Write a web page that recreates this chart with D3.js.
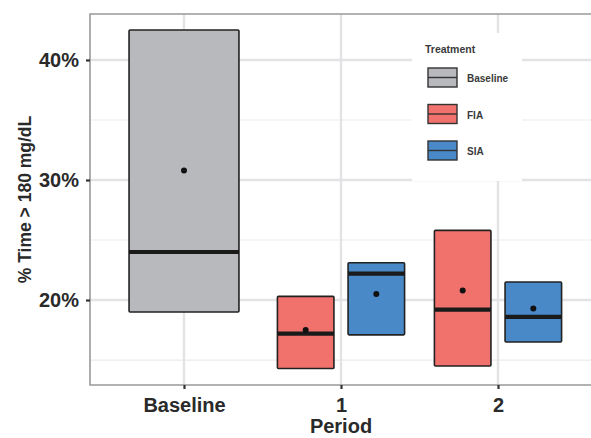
<!DOCTYPE html>
<html>
<head>
<meta charset="utf-8">
<script src="https://cdn.jsdelivr.net/npm/d3@7"></script>
<style>
  body { margin: 0; background: #fff; }
  text { font-family: "Liberation Sans", Arial, sans-serif; }
</style>
</head>
<body>
<script>
// categories on the x axis
var periods = ["Baseline", "1", "2"];
var treatments = ["Baseline", "FIA", "SIA"];
// one row per box: low, median, high, mean (percent)
var boxPeriod = ["Baseline", "1", "1", "2", "2"];
var boxTreat  = ["Baseline", "FIA", "SIA", "FIA", "SIA"];
var boxLow    = [19.0, 14.3, 17.1, 14.5, 16.5];
var boxMed    = [24.0, 17.2, 22.2, 19.2, 18.6];
var boxHigh   = [42.5, 20.3, 23.1, 25.8, 21.5];
var boxMean   = [30.8, 17.5, 20.5, 20.8, 19.3];
var yTicks = [20, 30, 40];
var yMinor = [15, 25, 35];

var boxes = boxPeriod.map(function(p, i){
    return {period: p, treat: boxTreat[i], low: boxLow[i], med: boxMed[i], high: boxHigh[i], mean: boxMean[i]};
});

var colors = {"Baseline": "#b8b9bd", "FIA": "#f1726c", "SIA": "#4a89c8"};

var w = 591, h = 438;
var pLeft = 90, pRight = 592, pTop = 14, pBottom = 385;

var svg = d3.select("body").append("svg")
    .attr("width", w)
    .attr("height", h);

// discrete x axis with ggplot-style 0.6 expansion
var x = d3.scalePoint()
    .domain(periods)
    .range([pLeft + 94, pRight - 94]);
var step = x.step();

var y = d3.scaleLinear()
    .domain([12.92, 43.83])
    .range([pBottom, pTop]);

// grid
svg.selectAll(".minor").data(yMinor).enter().append("line")
    .attr("x1", pLeft).attr("x2", pRight)
    .attr("y1", function(d){ return y(d); })
    .attr("y2", function(d){ return y(d); })
    .style("stroke", "#ebebeb").style("stroke-width", 1.2);
svg.selectAll(".major").data(yTicks).enter().append("line")
    .attr("x1", pLeft).attr("x2", pRight)
    .attr("y1", function(d){ return y(d); })
    .attr("y2", function(d){ return y(d); })
    .style("stroke", "#e3e3e6").style("stroke-width", 2.4);
svg.selectAll(".vmajor").data(periods).enter().append("line")
    .attr("y1", pTop).attr("y2", pBottom)
    .attr("x1", function(d){ return x(d); })
    .attr("x2", function(d){ return x(d); })
    .style("stroke", "#e3e3e6").style("stroke-width", 2.4);

// box position within a period (dodged when two treatments)
function boxX(d){
    if (d.period === "Baseline") return {x0: x(d.period) - 0.35 * step, x1: x(d.period) + 0.35 * step};
    var c = x(d.period) + (d.treat === "FIA" ? -0.225 : 0.225) * step;
    return {x0: c - 0.18 * step, x1: c + 0.18 * step};
}

var g = svg.selectAll(".box").data(boxes).enter().append("g");
g.append("rect")
    .attr("x", function(d){ return boxX(d).x0; })
    .attr("width", function(d){ var b = boxX(d); return b.x1 - b.x0; })
    .attr("y", function(d){ return y(d.high); })
    .attr("height", function(d){ return y(d.low) - y(d.high); })
    .attr("rx", 1)
    .style("fill", function(d){ return colors[d.treat]; })
    .style("stroke", "#222").style("stroke-width", 1.6);
g.append("line")
    .attr("x1", function(d){ return boxX(d).x0; })
    .attr("x2", function(d){ return boxX(d).x1; })
    .attr("y1", function(d){ return y(d.med); })
    .attr("y2", function(d){ return y(d.med); })
    .style("stroke", "#1a1a1a").style("stroke-width", 4.2);
g.append("circle")
    .attr("cx", function(d){ var b = boxX(d); return (b.x0 + b.x1) / 2; })
    .attr("cy", function(d){ return y(d.mean); })
    .attr("r", 3)
    .style("fill", "#111");

// panel border (left, top, bottom)
svg.append("path")
    .attr("d", "M" + pRight + "," + pTop + "H" + pLeft + "V" + pBottom + "H" + pRight)
    .style("fill", "none").style("stroke", "#999").style("stroke-width", 1.6);

// axes
var yAxis = svg.append("g")
    .attr("transform", "translate(" + pLeft + ",0)")
    .call(d3.axisLeft(y).tickValues(yTicks).tickSize(4).tickPadding(7)
        .tickFormat(function(d){ return d + "%"; }));
yAxis.select(".domain").remove();
yAxis.selectAll("line").style("stroke", "#333").style("stroke-width", 2.2);
yAxis.selectAll("text")
    .style("font-size", "20px").style("font-weight", "bold").style("fill", "#2a2a2a")
    .style("font-family", "Liberation Sans, Arial, sans-serif");

var xAxis = svg.append("g")
    .attr("transform", "translate(0," + pBottom + ")")
    .call(d3.axisBottom(x).tickSize(4).tickPadding(9));
xAxis.select(".domain").remove();
xAxis.selectAll("line").style("stroke", "#333").style("stroke-width", 2.2);
xAxis.selectAll("text")
    .style("font-size", "20px").style("font-weight", "bold").style("fill", "#2a2a2a")
    .style("font-family", "Liberation Sans, Arial, sans-serif");

svg.append("text")
    .attr("x", (pLeft + pRight) / 2 - 0).attr("y", 433)
    .attr("text-anchor", "middle")
    .style("font-size", "20px").style("font-weight", "bold").style("fill", "#2a2a2a")
    .text("Period");

svg.append("text")
    .attr("transform", "translate(31," + ((pTop + pBottom) / 2) + ") rotate(-90)")
    .attr("text-anchor", "middle")
    .style("font-size", "17.5px").style("font-weight", "bold").style("fill", "#2a2a2a")
    .text("% Time > 180 mg/dL");

// legend
var legend = svg.append("g").attr("transform", "translate(412,33)");
legend.append("rect")
    .attr("width", 110).attr("height", 148)
    .style("fill", "#fff");
legend.append("text")
    .attr("x", 13).attr("y", 20)
    .style("font-size", "10.5px").style("font-weight", "bold").style("fill", "#3a3a3a")
    .text("Treatment");
var items = legend.selectAll(".item").data(treatments).enter().append("g")
    .attr("transform", function(d, i){ return "translate(16," + (35 + i * 36.5) + ")"; });
items.append("rect")
    .attr("width", 29).attr("height", 19)
    .style("fill", function(d){ return colors[d]; })
    .style("stroke", "#333").style("stroke-width", 1.4);
items.append("line")
    .attr("x1", 0).attr("x2", 29).attr("y1", 9.5).attr("y2", 9.5)
    .style("stroke", "#333").style("stroke-width", 1.4);
items.append("text")
    .attr("x", 39).attr("y", 14)
    .style("font-size", "10px").style("font-weight", "bold").style("fill", "#3a3a3a")
    .text(function(d){ return d; });
</script>
</body>
</html>
